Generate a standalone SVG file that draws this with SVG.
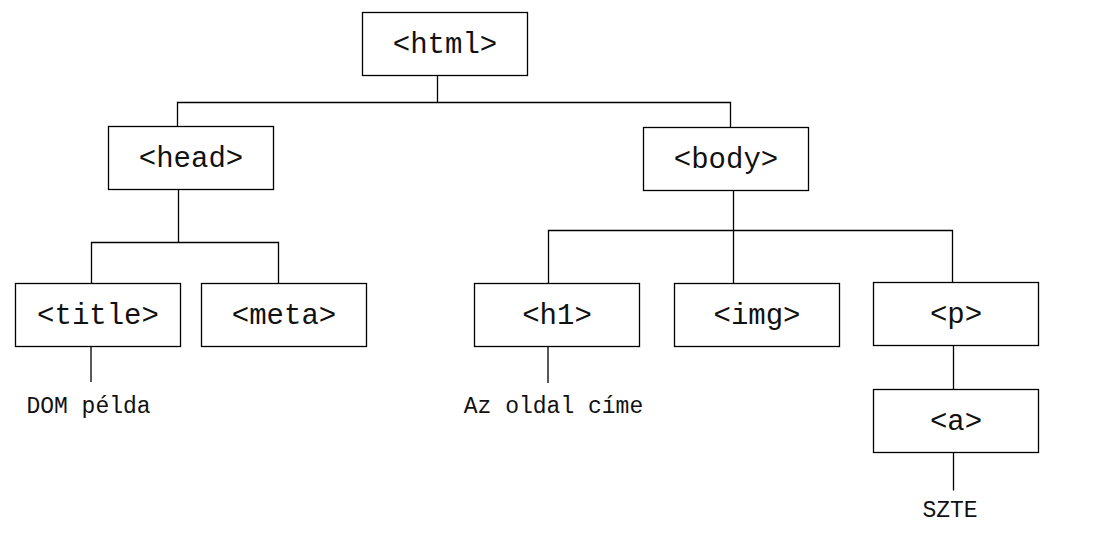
<svg xmlns="http://www.w3.org/2000/svg" width="1104" height="548" viewBox="0 0 1104 548">
<style>
.box{fill:#fff;stroke:#000;stroke-width:1.3}
.tag{font-family:"Liberation Mono","Courier New",monospace;font-size:29px;fill:#111;text-anchor:middle}
.lbl{font-family:"Liberation Mono","Courier New",monospace;font-size:23px;fill:#111;text-anchor:middle}
.con{fill:none;stroke:#000;stroke-width:1.3}
</style>
<rect width="1104" height="548" fill="#fff"/>
<g id="connectors" class="con">
<path d="M437.5 75.5V102.5M177.5 126.5V102.5H730.5V127.5"/>
<path d="M178.5 189.5V242.5M91.5 283.5V242.5H278.5V283.5"/>
<path d="M733.5 190.5V283.5M548.5 283.5V230.5H952.5V282.5"/>
<path d="M91 346.5V382M548 346.5V383M953.5 345.5V389.5M953.5 452.5V490.5"/>
</g>
<g id="html"><rect class="box" x="362.5" y="12.5" width="165" height="63"/><text class="tag" x="445" y="52.5">&lt;html&gt;</text></g>
<g id="head"><rect class="box" x="108.5" y="126.5" width="165" height="63"/><text class="tag" x="191" y="166.5">&lt;head&gt;</text></g>
<g id="body"><rect class="box" x="643.5" y="127.5" width="165" height="63"/><text class="tag" x="726" y="167.5">&lt;body&gt;</text></g>
<g id="title"><rect class="box" x="15.5" y="283.5" width="165" height="63"/><text class="tag" x="98" y="323.5">&lt;title&gt;</text></g>
<g id="meta"><rect class="box" x="201.5" y="283.5" width="165" height="63"/><text class="tag" x="284" y="323.5">&lt;meta&gt;</text></g>
<g id="h1"><rect class="box" x="474.5" y="283.5" width="165" height="63"/><text class="tag" x="557" y="323.5">&lt;h1&gt;</text></g>
<g id="img"><rect class="box" x="674.5" y="283.5" width="165" height="63"/><text class="tag" x="757" y="323.5">&lt;img&gt;</text></g>
<g id="p"><rect class="box" x="873.5" y="282.5" width="165" height="63"/><text class="tag" x="956" y="322.5">&lt;p&gt;</text></g>
<g id="a"><rect class="box" x="873.5" y="389.5" width="165" height="63"/><text class="tag" x="956" y="429.5">&lt;a&gt;</text></g>
<g id="text-dom"><text class="lbl" x="88.5" y="413">DOM példa</text></g>
<g id="text-cime"><text class="lbl" x="553.5" y="412.5">Az oldal címe</text></g>
<g id="text-szte"><text class="lbl" x="950" y="517">SZTE</text></g>
</svg>
